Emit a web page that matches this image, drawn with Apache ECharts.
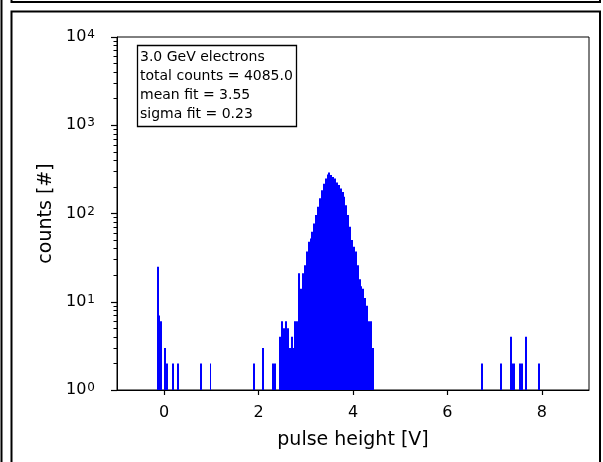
<!DOCTYPE html>
<html>
<head>
<meta charset="utf-8">
<script src="https://cdn.jsdelivr.net/npm/echarts@6/dist/echarts.min.js"></script>
<style>
html,body{margin:0;padding:0;background:#fff;}
#chart{width:603px;height:462px;}
</style>
</head>
<body>
<div id="chart"></div>
<script>
// ---- data ----
const binWidth = 0.04;
const binLeft = [
  -0.16, -0.12, -0.08, 0.00, 0.04, 0.16, 0.28,
  0.76, 0.96, 1.88, 2.08, 2.28, 2.32,
  2.44, 2.48, 2.52, 2.56, 2.60, 2.64, 2.68, 2.72, 2.76, 2.80,
  2.84, 2.88, 2.92, 2.96, 3.00, 3.04, 3.08, 3.12, 3.16, 3.20,
  3.24, 3.28, 3.32, 3.36, 3.40, 3.44, 3.48, 3.52, 3.56, 3.60,
  3.64, 3.68, 3.72, 3.76, 3.80, 3.84, 3.88, 3.92, 3.96, 4.00,
  4.04, 4.08, 4.12, 4.16, 4.20, 4.24, 4.28, 4.32, 4.36, 4.40,
  6.72, 7.12, 7.32, 7.36, 7.40, 7.52, 7.56, 7.64, 7.92
];
const binCount = [
  25, 7, 6, 3, 2, 2, 2,
  2, 2, 2, 3, 2, 2,
  4, 6, 5, 6, 5, 3, 4, 3, 6, 6,
  21, 14, 21, 26, 37, 48, 52, 62, 77, 96,
  119, 149, 184, 218, 250, 277, 292, 273, 260, 249,
  225, 210, 192, 175, 155, 124, 96, 71, 50, 42,
  37, 26, 18, 15, 14, 11, 9, 6, 6, 3,
  2, 2, 4, 2, 2, 2, 2, 4, 2
];
const xTicks = [0, 2, 4, 6, 8];
const yMajorTicks = [1, 10, 100, 1000, 10000];
const yMinorTicks = [2,3,4,5,6,7,8,9, 20,30,40,50,60,70,80,90,
  200,300,400,500,600,700,800,900, 2000,3000,4000,5000,6000,7000,8000,9000];
const infoLines = ['3.0 GeV electrons', 'total counts = 4085.0', 'mean fit = 3.55', 'sigma fit = 0.23'];
const xName = 'pulse height [V]';
const yName = 'counts [#]';

const FONT = 'DejaVu Sans';
const histData = binLeft.map((l, i) => [l, l + binWidth, binCount[i]]);
// helper linear axis in decades (log10 of the count) used only to place the minor ticks
const minorDecades = yMinorTicks.map(v => Math.log10(v));

const chart = echarts.init(document.getElementById('chart'), null, {renderer: 'canvas'});
chart.setOption({
  animation: false,
  backgroundColor: '#fff',
  grid: {left: 117, right: 14, top: 37, bottom: 72, show: true, borderColor: '#000', borderWidth: 1, backgroundColor: 'transparent'},
  title: {
    text: infoLines.join('\n'),
    left: 137, top: 45,
    padding: [3, 4, 3, 3],
    borderColor: '#000', borderWidth: 1.3, backgroundColor: '#fff',
    textStyle: {fontFamily: FONT, fontSize: 14, fontWeight: 'normal', lineHeight: 19, color: '#000'}
  },
  xAxis: {
    type: 'value', min: -1, max: 9,
    name: xName, nameLocation: 'middle', nameGap: 41,
    nameTextStyle: {fontFamily: FONT, fontSize: 19, color: '#000'},
    axisLine: {show: true, onZero: false, lineStyle: {color: '#000', width: 1}},
    axisTick: {show: true, inside: false, length: 5, customValues: xTicks, lineStyle: {color: '#000', width: 1.2}},
    axisLabel: {customValues: xTicks, margin: 15, fontFamily: FONT, fontSize: 16, color: '#000'},
    splitLine: {show: false}
  },
  yAxis: [{
    type: 'log', logBase: 10, min: 1, max: 10000,
    name: yName, nameLocation: 'middle', nameGap: 61,
    nameTextStyle: {fontFamily: FONT, fontSize: 19, color: '#000'},
    axisLine: {show: true, onZero: false, lineStyle: {color: '#000', width: 1}},
    axisTick: {show: true, inside: false, length: 6, customValues: yMajorTicks, lineStyle: {color: '#000', width: 1.2}},
    axisLabel: {
      customValues: yMajorTicks, margin: 22,
      formatter: v => '{b|10}{s|' + Math.round(Math.log10(v)) + '}',
      rich: {
        b: {fontFamily: FONT, fontSize: 16, color: '#000', verticalAlign: 'bottom', lineHeight: 16},
        s: {fontFamily: FONT, fontSize: 12, color: '#000', verticalAlign: 'top', lineHeight: 12, padding: [0, 0, 11, 1]}
      }
    },
    splitLine: {show: false}
  }, {
    type: 'value', min: 0, max: 4, position: 'left',
    axisLine: {show: false, onZero: false},
    axisTick: {show: true, inside: false, length: 3.5, customValues: minorDecades, lineStyle: {color: '#000', width: 1}},
    axisLabel: {show: false},
    splitLine: {show: false}
  }],
  series: [{
    type: 'custom',
    xAxisIndex: 0, yAxisIndex: 0,
    clip: true,
    encode: {x: [0, 1], y: 2},
    data: histData,
    renderItem: function (params, api) {
      const p0 = api.coord([api.value(0), api.value(2)]);
      const p1 = api.coord([api.value(1), 1]);
      const xa = Math.round(p0[0]);
      const xb = Math.max(xa + 1, Math.round(p1[0]));
      return {
        type: 'rect',
        shape: {x: xa, y: p0[1], width: xb - xa, height: p1[1] - p0[1]},
        style: {fill: '#0000ff'}
      };
    }
  }],
  graphic: [
    {type: 'line', shape: {x1: 1.5, y1: 0, x2: 1.5, y2: 462}, style: {stroke: '#000', lineWidth: 2}, silent: true},
    {type: 'polyline', shape: {points: [[11.5, -5], [11.5, 2], [600, 2], [600, -5]]}, style: {stroke: '#000', lineWidth: 2, fill: null}, silent: true},
    {type: 'polyline', shape: {points: [[11.5, 470], [11.5, 11.5], [600, 11.5], [600, 470]]}, style: {stroke: '#000', lineWidth: 2, fill: null}, silent: true}
  ]
});
</script>
</body>
</html>
